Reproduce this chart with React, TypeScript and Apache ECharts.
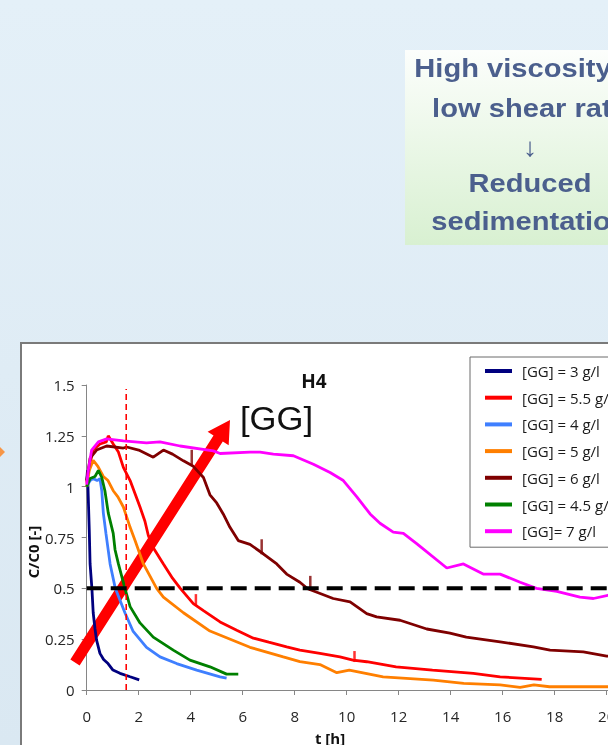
import React, { useEffect, useRef } from "react";
import * as echarts from "echarts";

// ---------- data (t [h], C/C0 [-]) ----------
const seriesNames = [
  "[GG] = 3 g/l",
  "[GG] = 5.5 g/l",
  "[GG] = 4 g/l",
  "[GG] = 5 g/l",
  "[GG] = 6 g/l",
  "[GG] = 4.5 g/l",
  "[GG]= 7 g/l",
];
const seriesColors = ["#00007f", "#ff0000", "#3f7fff", "#ff7f00", "#7f0000", "#008000", "#ff00ff"];

const gg3: number[][] = [
  [0, 1.03], [0.03, 1.08], [0.06, 0.95], [0.1, 0.78], [0.13, 0.62], [0.2, 0.5], [0.25, 0.38],
  [0.32, 0.3], [0.38, 0.245], [0.51, 0.18], [0.65, 0.15], [0.82, 0.13], [1.01, 0.098],
  [1.28, 0.082], [1.67, 0.065], [2.02, 0.05],
];
const gg55: number[][] = [
  [0, 1.02], [0.1, 1.1], [0.25, 1.18], [0.51, 1.21], [0.75, 1.22], [0.83, 1.25], [1.02, 1.21],
  [1.22, 1.17], [1.41, 1.095], [1.67, 1.03], [1.86, 0.965], [2.05, 0.9], [2.24, 0.83],
  [2.37, 0.76], [2.56, 0.7], [2.95, 0.62], [3.3, 0.55], [3.6, 0.5], [4.1, 0.425], [4.49, 0.39],
  [5.13, 0.335], [5.77, 0.294], [6.41, 0.255], [7.0, 0.235], [7.69, 0.212], [8.2, 0.196],
  [8.97, 0.18], [9.74, 0.163], [10.24, 0.147], [10.77, 0.139], [11.9, 0.114], [13.3, 0.098],
  [14.87, 0.082], [15.9, 0.065], [17.5, 0.052],
];
const gg4: number[][] = [
  [0, 1.0], [0.13, 1.03], [0.24, 1.04], [0.4, 1.03], [0.51, 1.04], [0.58, 0.98], [0.64, 0.87],
  [0.74, 0.77], [0.9, 0.62], [1.1, 0.5], [1.47, 0.38], [1.78, 0.29], [2.3, 0.21],
  [2.82, 0.163], [3.46, 0.13], [4.23, 0.098], [5.13, 0.065], [5.38, 0.059],
];
const gg5: number[][] = [
  [0, 1.0], [0.1, 1.08], [0.25, 1.13], [0.43, 1.1], [0.64, 1.05], [0.82, 1.03], [1.02, 0.98],
  [1.2, 0.95], [1.41, 0.9], [1.67, 0.8], [1.86, 0.735], [2.18, 0.62], [2.69, 0.5],
  [2.95, 0.457], [3.72, 0.38], [4.74, 0.29], [6.28, 0.21], [7.56, 0.163], [8.2, 0.14],
  [8.97, 0.125], [9.62, 0.085], [10.1, 0.098], [11.4, 0.065], [13.33, 0.049], [14.5, 0.033],
  [15.9, 0.025], [16.67, 0.013], [17.2, 0.025], [17.8, 0.016], [20, 0.016], [22, 0.016],
];
const gg6: number[][] = [
  [0, 1.03], [0.13, 1.14], [0.38, 1.18], [0.77, 1.2], [1.41, 1.19], [1.54, 1.195], [2.0, 1.18],
  [2.56, 1.145], [2.95, 1.18], [3.3, 1.16], [3.72, 1.127], [4.1, 1.1], [4.49, 1.045],
  [4.74, 0.96], [5.0, 0.92], [5.25, 0.866], [5.51, 0.8], [5.83, 0.735], [6.28, 0.716],
  [6.79, 0.67], [7.31, 0.62], [7.69, 0.57], [8.2, 0.53], [8.5, 0.498], [9.48, 0.45],
  [10.13, 0.433], [10.77, 0.376], [11.15, 0.36], [12.05, 0.343], [13.08, 0.3], [13.97, 0.28],
  [14.6, 0.26], [15.9, 0.237], [17.18, 0.212], [17.82, 0.196], [19.1, 0.188], [20, 0.167],
  [22, 0.155],
];
const gg45: number[][] = [
  [0, 1.0], [0.13, 1.04], [0.32, 1.05], [0.45, 1.08], [0.58, 1.045], [0.7, 0.98], [0.83, 0.87],
  [1.02, 0.77], [1.09, 0.69], [1.22, 0.62], [1.47, 0.5], [1.67, 0.41], [2.05, 0.33],
  [2.56, 0.26], [3.33, 0.196], [3.97, 0.147], [4.74, 0.114], [5.38, 0.078], [5.83, 0.078],
];
const gg7: number[][] = [
  [0, 1.01], [0.06, 1.08], [0.19, 1.18], [0.45, 1.22], [0.77, 1.235], [1.41, 1.225],
  [2.3, 1.215], [2.82, 1.22], [3.59, 1.2], [4.87, 1.176], [5.13, 1.163], [6.28, 1.17],
  [6.67, 1.17], [7.18, 1.16], [7.95, 1.152], [8.72, 1.11], [9.36, 1.07], [9.87, 1.03],
  [10.39, 0.95], [10.9, 0.866], [11.28, 0.82], [11.79, 0.776], [12.18, 0.77], [12.69, 0.72],
  [13.85, 0.6], [14.49, 0.62], [15.25, 0.57], [15.9, 0.57], [16.67, 0.53], [17.3, 0.5],
  [18.08, 0.485], [18.97, 0.457], [19.49, 0.45], [20.05, 0.466], [22, 0.47],
];
const seriesData = [gg3, gg55, gg4, gg5, gg6, gg45, gg7];

// small vertical markers on the curves
const ticks6: number[][] = [[4.04, 1.11], [6.73, 0.67], [8.6, 0.49]];
const ticks55: number[][] = [[4.2, 0.42], [10.3, 0.14]];

// reference lines
const halfLine: number[][] = [[0, 0.5], [22, 0.5]];
const timeLine: number[][] = [[1.52, 0], [1.52, 1.48]];

const xTicks = { min: 0, max: 22, interval: 2 };
const yTicks = { min: 0, max: 1.5, interval: 0.25 };

function arrowPoints(tail: number[], tip: number[], w: number, hl: number, hw: number) {
  const dx = tip[0] - tail[0];
  const dy = tip[1] - tail[1];
  const len = Math.hypot(dx, dy);
  const d = [dx / len, dy / len];
  const n = [-d[1], d[0]];
  const b = [tip[0] - hl * d[0], tip[1] - hl * d[1]];
  const p = (o: number[], s: number) => [o[0] + s * n[0], o[1] + s * n[1]];
  return [p(tail, -w), p(b, -w), p(b, -hw), tip, p(b, hw), p(b, w), p(tail, w)];
}

export default function App() {
  const ref = useRef<HTMLDivElement>(null);
  useEffect(() => {
    document.body.style.margin = "0";
    const chart = echarts.init(ref.current!, null, { renderer: "svg" });
    const font = "Open Sans";
    const lineSeries = seriesNames.map((name, i) => ({
      name,
      type: "line",
      data: seriesData[i],
      showSymbol: false,
      symbol: "none",
      lineStyle: { color: seriesColors[i], width: 2.8 },
      itemStyle: { color: seriesColors[i] },
      z: 3,
    }));
    const option: any = {
      animation: false,
      backgroundColor: "transparent",
      textStyle: { fontFamily: font },
      grid: {
        left: 86.7,
        right: -50.7,
        top: 385,
        bottom: 55,
        containLabel: false,
        outerBoundsMode: "none",
      },
      xAxis: {
        type: "value",
        ...xTicks,
        axisLine: { show: true, onZero: false, lineStyle: { color: "#868686", width: 1 } },
        axisTick: { show: true, length: 5, lineStyle: { color: "#868686" } },
        axisLabel: { fontSize: 15, color: "#262626", margin: 18, fontFamily: font },
        splitLine: { show: false },
      },
      yAxis: {
        type: "value",
        ...yTicks,
        axisLine: { show: true, onZero: false, lineStyle: { color: "#868686", width: 1 } },
        axisTick: { show: true, length: 5, lineStyle: { color: "#868686" } },
        axisLabel: { fontSize: 15, color: "#262626", margin: 12, fontFamily: font },
        splitLine: { show: false },
      },
      legend: {
        data: seriesNames,
        orient: "vertical",
        left: 470,
        top: 357,
        icon: "rect",
        itemWidth: 27,
        itemHeight: 4,
        itemGap: 8.7,
        padding: [5, 40, 7, 15],
        borderColor: "#6b6b6b",
        borderWidth: 1,
        backgroundColor: "#ffffff",
        selectedMode: false,
        textStyle: { fontSize: 15, color: "#1a1a1a", fontFamily: font, lineHeight: 18, padding: [0, 0, 0, 5] },
      },
      series: [
        ...lineSeries,
        {
          type: "scatter",
          data: ticks6,
          symbol: "rect",
          symbolSize: [2.5, 15],
          symbolOffset: [0, -7],
          itemStyle: { color: "#7f0000" },
          z: 4,
          silent: true,
        },
        {
          type: "scatter",
          data: ticks55,
          symbol: "rect",
          symbolSize: [2.5, 11],
          symbolOffset: [0, -5],
          itemStyle: { color: "#ff0000" },
          z: 4,
          silent: true,
        },
        {
          type: "line",
          data: timeLine,
          showSymbol: false,
          symbol: "none",
          lineStyle: { color: "#ff0000", width: 1.6, type: [6, 4] },
          z: 5,
          silent: true,
        },
        {
          type: "line",
          data: halfLine,
          showSymbol: false,
          symbol: "none",
          lineStyle: { color: "#000000", width: 4, type: [16, 8] },
          z: 6,
          silent: true,
        },
      ],
      graphic: [
        {
          type: "rect",
          z: -10,
          shape: { x: 0, y: 0, width: 608, height: 745 },
          style: {
            fill: new echarts.graphic.LinearGradient(0, 0, 0, 1, [
              { offset: 0, color: "#e4f0f8" },
              { offset: 1, color: "#dae8f2" },
            ]),
          },
        },
        {
          type: "rect",
          z: -9,
          shape: { x: 405, y: 50, width: 215, height: 195 },
          style: {
            fill: new echarts.graphic.LinearGradient(0, 0, 0, 1, [
              { offset: 0, color: "#fcfefc" },
              { offset: 1, color: "#d8f0d1" },
            ]),
          },
        },
        {
          type: "rect",
          z: -9,
          shape: { x: 21, y: 343, width: 620, height: 420 },
          style: { fill: "#ffffff", stroke: "#7a7a7a", lineWidth: 2 },
        },
        {
          type: "polygon",
          z: -8,
          shape: { points: [[0, 447], [5, 452], [0, 457]] },
          style: { fill: "#f79646" },
        },
        {
          type: "polygon",
          z: 1,
          shape: { points: arrowPoints([75, 662.5], [230, 420], 5.5, 22, 12.5) },
          style: { fill: "#ff0000" },
        },
        ...[
          { t: "High viscosity at", y: 68.2, w: "bold" },
          { t: "low shear rate", y: 108.2, w: "bold" },
          { t: "\u2193", y: 147.5, w: "normal" },
          { t: "Reduced", y: 182.6, w: "bold" },
          { t: "sedimentation", y: 220.9, w: "bold" },
        ].map((l) => ({
          type: "text",
          z: 2,
          x: 530,
          y: l.y,
          scaleX: 1.12,
          style: {
            text: l.t,
            fill: "#4b5f8d",
            font: `${l.w} 26px "Liberation Sans", Arial, sans-serif`,
            align: "center",
            verticalAlign: "middle",
          },
        })),
        {
          type: "text",
          z: 2,
          x: 314,
          y: 381,
          style: { text: "H4", fill: "#111", font: `bold 19px "${font}"`, align: "center", verticalAlign: "middle" },
        },
        {
          type: "text",
          z: 2,
          x: 276.5,
          y: 418.5,
          scaleX: 1.05,
          style: { text: "[GG]", fill: "#111", font: `33px "Liberation Sans", Arial`, align: "center", verticalAlign: "middle" },
        },
        {
          type: "text",
          z: 2,
          x: 330,
          y: 738.2,
          style: { text: "t [h]", fill: "#111", font: `bold 15px "${font}"`, align: "center", verticalAlign: "middle" },
        },
        {
          type: "text",
          z: 2,
          x: 33,
          y: 552,
          rotation: Math.PI / 2,
          style: { text: "C/C0 [-]", fill: "#111", font: `bold 15px "${font}"`, align: "center", verticalAlign: "middle" },
        },
      ],
    };
    chart.setOption(option);
    return () => chart.dispose();
  }, []);
  return (
    <div
      ref={ref}
      style={{ position: "fixed", left: 0, top: 0, width: 608, height: 745, overflow: "hidden" }}
    />
  );
}
